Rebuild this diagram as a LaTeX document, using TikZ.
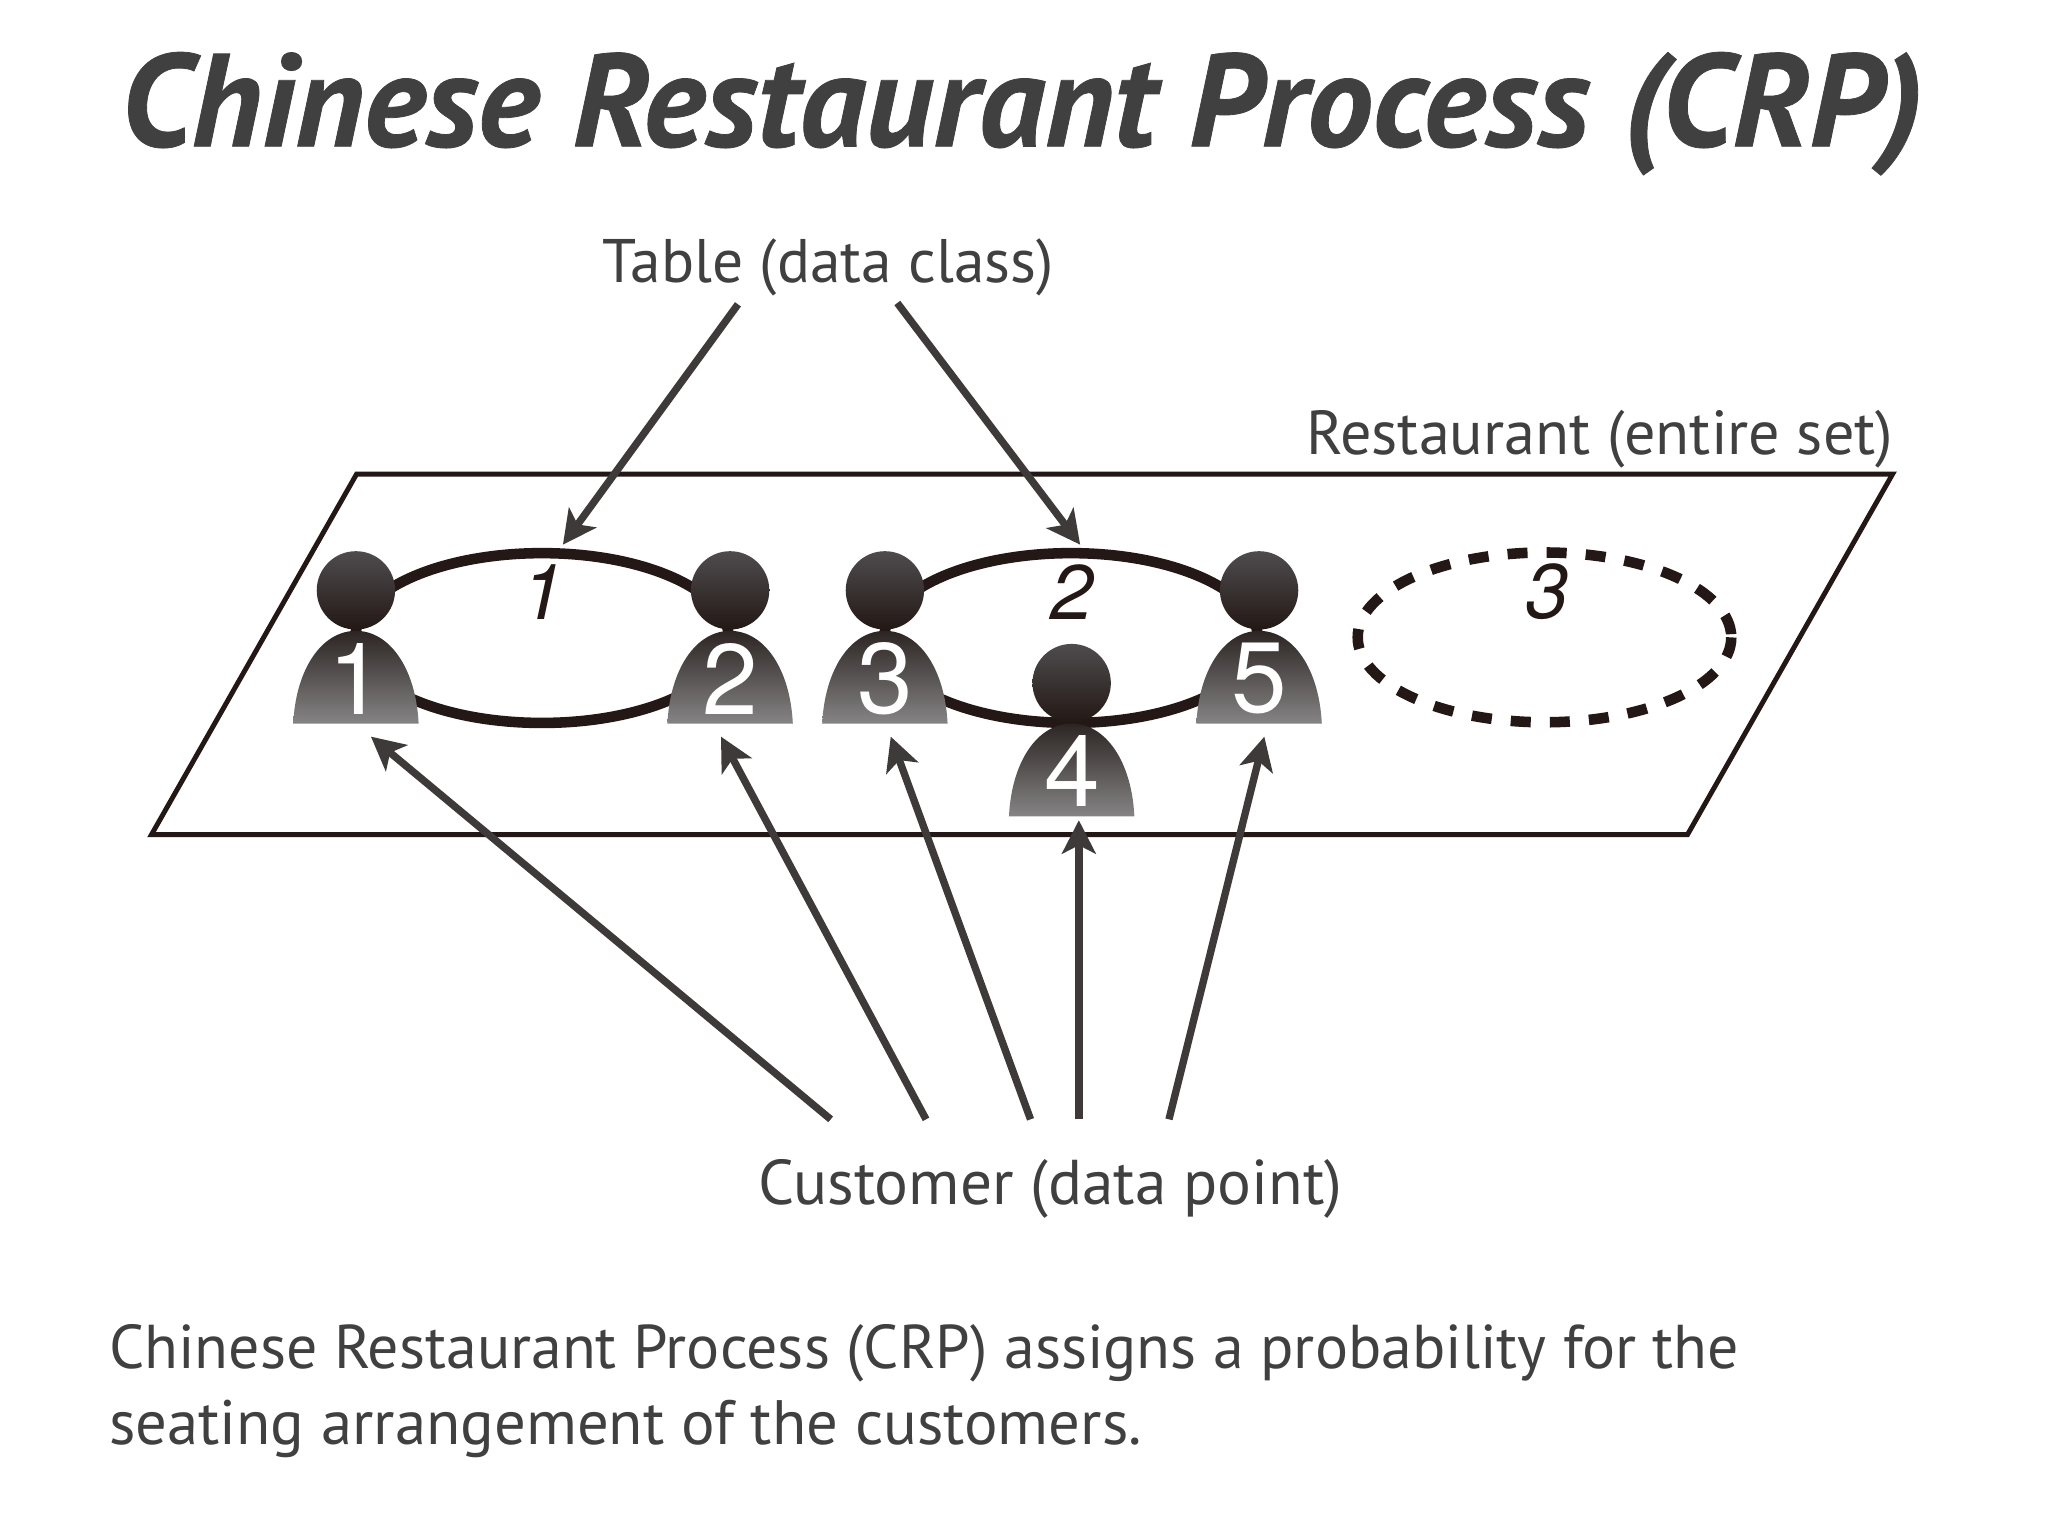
\documentclass[tikz,border=0pt]{standalone}
\usepackage{fontspec}
\usetikzlibrary{arrows.meta,shadings}
\setmainfont{PT Sans}[BoldItalicFeatures={FakeBold=0.6}]
\newfontfamily\digitfont{TeX Gyre Heros}
\definecolor{inkk}{HTML}{231815}
\definecolor{bodytop}{HTML}{2C2523}
\definecolor{txt}{HTML}{404040}
\definecolor{arr}{HTML}{3E3A39}
\definecolor{headtop}{HTML}{4F4C4E}
\definecolor{bodybot}{HTML}{858484}
\tikzset{
  lab/.style={anchor=base west,inner sep=0pt,text=txt},
  conn/.style={draw=arr,line width=2.1pt,-{Stealth[length=9.5pt,width=9.6pt,inset=2.4pt]}},
  tablering/.style={draw=inkk,line width=3pt},
  head/.style={circle,minimum size=0.7836cm,inner sep=0pt,top color=headtop,bottom color=inkk,draw=none},
  seatnum/.style={text=white,inner sep=0pt,font=\digitfont\fontsize{28.5}{29}\selectfont},
  tablenum/.style={text=inkk,inner sep=0pt,font=\digitfont\itshape\fontsize{22}{22}\selectfont},
}
\newcommand{\customer}[4]{% name, x, head y, digit
  \shade[top color=bodytop,bottom color=bodybot]
    (#2-48,#3+102) .. controls (#2-46,#3+60) and (#2-26,#3+31) .. (#2,#3+31)
    .. controls (#2+26,#3+31) and (#2+46,#3+60) .. (#2+48,#3+102) -- cycle;
  \node[head] (h#1) at (#2,#3) {};
  \node[seatnum] (n#1) at (#2+0.5,#3+67.5) {#4};
}
\begin{document}
\begin{tikzpicture}[x=0.01306cm,y=-0.01306cm]
\useasboundingbox[fill=white] (0,0) rectangle (1568,1176);
% restaurant
\draw[draw=inkk,line width=1.4pt,line join=miter] (273,363) -- (1449,363) -- (1292,639) -- (116,639) -- cycle;
% tables
\draw[tablering] (415,488.5) ellipse [x radius=143,y radius=65];
\draw[tablering] (820,488.5) ellipse [x radius=143,y radius=65];
\draw[tablering,dash pattern=on 5.7pt off 5.43pt] (1182.5,488) ellipse [x radius=143,y radius=65];
\node[tablenum] (t1) at (415.5,453) {1};
\node[tablenum] (t2) at (820.5,453) {2};
\node[tablenum] (t3) at (1184.5,453) {3};
% customers
\customer{1}{272.5}{452}{1}
\customer{2}{559}{452}{2}
\customer{3}{677.5}{452}{3}
\customer{5}{964}{452}{5}
\customer{4}{820.5}{523}{4}
% texts
\node[anchor=base west,inner sep=0pt,text=txt,font=\bfseries\itshape\fontsize{37.55}{42}\selectfont] (title) at (92,112) {Chinese Restaurant Process (CRP)};
\node[lab,font=\fontsize{17.5}{21}\selectfont] (tbl) at (461,216) {Table (data class)};
\node[lab,font=\fontsize{17.7}{21}\selectfont] (rst) at (999.5,348) {Restaurant (entire set)};
\node[lab,font=\fontsize{18}{21}\selectfont] (cst) at (580,922) {Customer (data point)};
\node[lab,font=\fontsize{17.6}{21}\selectfont] (l1) at (83,1048) {Chinese Restaurant Process (CRP) assigns a probability for the};
\node[lab,font=\fontsize{17.85}{21}\selectfont] (l2) at (83,1106) {seating arrangement of the customers.};
% connector ends
\coordinate (a1s) at (565,233); \coordinate (a1e) at (431,417);
\coordinate (a2s) at (687,232); \coordinate (a2e) at (827,417);
\coordinate (b1s) at (636,857); \coordinate (b1e) at (284,564);
\coordinate (b2s) at (709,857); \coordinate (b2e) at (552,564);
\coordinate (b3s) at (789,857); \coordinate (b3e) at (682,564);
\coordinate (b4s) at (826,857); \coordinate (b4e) at (826,628);
\coordinate (b5s) at (895,857); \coordinate (b5e) at (968,564);
\foreach \p in {a1,a2,b1,b2,b3,b4,b5} \draw[conn] (\p s) -- (\p e);
\end{tikzpicture}
\end{document}
